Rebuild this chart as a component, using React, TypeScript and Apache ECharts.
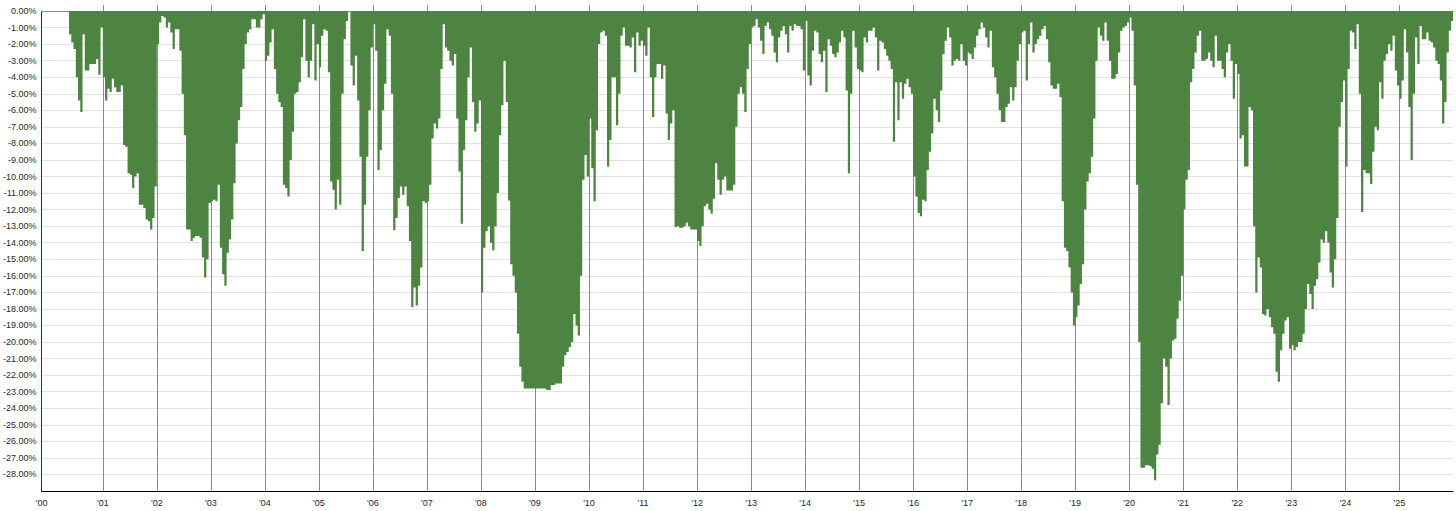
import React, { useEffect, useRef } from "react";
import * as echarts from "echarts";

// ---- axis ranges ----
const X_MIN = 1999.8657;
const X_MAX = 2025.994;
const Y_MIN = -29;
const Y_MAX = 0;
const STEPS_PER_YEAR = 24;
const yearLines = [
  2001, 2002, 2003, 2004, 2005, 2006, 2007, 2008, 2009, 2010, 2011, 2012, 2013,
  2014, 2015, 2016, 2017, 2018, 2019, 2020, 2021, 2022, 2023, 2024, 2025,
];

// ---- drawdown (%), semi-monthly samples per year ----
const dd2000 = [0, 0, 0, 0, 0, 0, 0, 0, 0, -1.4, -1.9, -2.3, -4.0, -5.4, -6.1, -1.4, -3.6, -3.6, -3.2, -3.2, -3.2, -2.9, -3.85, -1.0];
const dd2001 = [-4.0, -5.4, -4.7, -4.9, -4.1, -4.6, -4.9, -4.9, -4.5, -8.1, -8.2, -9.8, -9.9, -10.7, -10.0, -9.8, -11.7, -11.7, -11.9, -12.6, -12.7, -13.2, -12.5, -10.6];
const dd2002 = [-2.0, -0.7, -0.3, -0.4, -1.0, -0.7, -1.3, -2.3, -1.1, -1.1, -2.4, -5.0, -7.5, -13.2, -13.2, -13.9, -13.7, -13.6, -13.6, -13.7, -14.9, -16.1, -15.0, -11.6];
const dd2003 = [-11.5, -11.4, -11.5, -10.5, -14.3, -15.9, -16.6, -14.6, -13.8, -12.6, -10.4, -8.0, -6.6, -5.8, -3.5, -2.0, -1.3, -1.1, -0.5, -0.5, -1.0, -1.0, -0.5, -0.2];
const dd2004 = [-3.0, -2.7, -1.9, -1.1, -3.5, -5.0, -5.5, -5.8, -10.5, -10.7, -11.2, -9.0, -7.3, -5.0, -4.9, -4.3, -2.8, -0.5, -3.0, -4.0, -3.0, -0.8, -4.2, -2.0];
const dd2005 = [-3.4, -1.5, -1.1, -1.2, -3.7, -10.3, -10.8, -12.0, -10.2, -11.7, -5.0, -1.7, -0.6, 0, -3.3, -4.5, -2.7, -5.4, -8.8, -14.5, -11.7, -8.8, -6.0, -2.2];
const dd2006 = [-0.8, -2.4, -9.6, -8.4, -6.0, -4.4, -1.1, -1.5, -5.0, -13.25, -12.5, -11.3, -10.6, -11.1, -10.6, -11.8, -13.9, -17.9, -16.7, -17.8, -16.6, -15.5, -11.5, -11.6];
const dd2007 = [-11.5, -10.5, -7.7, -6.8, -7.1, -6.5, -3.5, -0.8, -2.2, -2.4, -3.0, -3.3, -2.6, -6.5, -9.7, -12.85, -8.4, -6.6, -4.0, -2.2, -5.5, -7.3, -6.8, -5.4];
const dd2008 = [-17.0, -14.3, -13.3, -13.0, -14.0, -14.45, -13.0, -11.0, -7.5, -5.7, -3.0, -5.5, -11.45, -15.3, -16.0, -17.0, -19.5, -21.5, -22.4, -22.8, -22.8, -22.8, -22.8, -22.8];
const dd2009 = [-22.8, -22.8, -22.8, -22.8, -22.8, -22.9, -22.9, -22.6, -22.6, -22.5, -22.5, -22.5, -21.5, -20.8, -20.6, -20.3, -20.0, -18.3, -19.0, -19.6, -16.0, -10.2, -8.7, -10.0];
const dd2010 = [-6.5, -9.5, -11.5, -7.2, -2.0, -1.3, -1.2, -1.5, -9.4, -7.8, -4.0, -4.0, -6.9, -5.0, -1.5, -1.0, -2.1, -2.1, -2.2, -1.6, -3.7, -1.3, -2.1, -1.8];
const dd2011 = [-2.1, -2.7, -1.0, -4.0, -6.4, -4.0, -3.2, -3.2, -4.1, -3.3, -6.2, -7.8, -6.8, -6.0, -13.05, -13.0, -13.1, -13.1, -13.0, -12.8, -13.0, -13.2, -13.2, -13.2];
const dd2012 = [-13.9, -14.2, -13.0, -11.8, -11.65, -12.0, -12.25, -11.35, -9.2, -10.2, -11.1, -10.2, -10.0, -10.85, -10.85, -10.85, -10.5, -7.0, -5.0, -4.6, -5.0, -6.1, -3.5, -2.0];
const dd2013 = [-1.0, -0.9, -0.5, -1.0, -1.8, -2.6, -0.9, -0.7, -1.1, -1.5, -2.5, -3.1, -1.6, -1.2, -0.9, -1.4, -2.5, -0.9, -1.2, -0.8, -0.9, -0.9, -1.1, -3.6];
const dd2014 = [-0.6, -3.9, -4.5, -2.4, -1.2, -1.3, -2.6, -3.1, -2.4, -4.9, -1.7, -2.1, -2.6, -2.8, -2.5, -1.9, -1.2, -1.6, -4.8, -9.8, -5.0, -1.2, -2.2, -3.5];
const dd2015 = [-3.6, -3.7, -1.6, -1.9, -1.2, -1.2, -1.0, -1.6, -3.6, -1.8, -1.9, -2.3, -2.7, -3.0, -3.5, -7.9, -4.3, -6.6, -4.3, -5.3, -4.4, -4.1, -4.6, -5.0];
const dd2016 = [-10.0, -11.2, -12.2, -12.4, -11.4, -11.5, -9.6, -8.5, -7.4, -5.3, -6.0, -6.7, -4.8, -2.6, -1.8, -1.0, -1.6, -3.3, -3.0, -2.9, -3.0, -2.0, -3.0, -3.3];
const dd2017 = [-2.5, -2.6, -2.9, -2.2, -1.5, -1.1, -0.7, -1.0, -1.6, -2.2, -1.2, -3.4, -4.0, -5.0, -6.0, -6.7, -6.7, -5.8, -5.6, -4.6, -5.4, -4.6, -3.0, -2.0];
const dd2018 = [-1.3, -1.2, -4.2, -2.0, -0.7, -2.5, -2.0, -1.7, -1.5, -1.1, -0.9, -1.7, -3.1, -4.5, -4.7, -4.7, -4.4, -5.2, -11.5, -14.3, -14.5, -15.5, -17.0, -19.0];
const dd2019 = [-18.5, -17.8, -16.5, -15.3, -12.0, -10.3, -9.8, -8.8, -6.5, -3.0, -1.0, -1.5, -1.8, -0.7, -1.8, -3.0, -4.1, -4.1, -3.8, -2.5, -1.2, -1.0, -0.9, -0.7];
const dd2020 = [-0.4, -1.2, -4.5, -10.5, -20.0, -27.6, -27.6, -27.45, -27.45, -27.5, -27.65, -28.35, -26.8, -26.2, -23.7, -21.0, -21.5, -23.8, -21.0, -19.9, -19.8, -18.6, -17.5, -16.0];
const dd2021 = [-12.0, -10.2, -9.6, -4.3, -3.5, -2.5, -1.5, -1.2, -3.0, -3.0, -2.9, -2.5, -3.0, -3.4, -1.5, -3.0, -3.0, -3.5, -4.0, -2.5, -2.0, -3.0, -5.3, -3.2];
const dd2022 = [-3.8, -7.7, -7.5, -9.4, -9.4, -5.8, -6.0, -13.0, -17.0, -14.9, -15.5, -18.3, -18.4, -18.0, -18.5, -19.1, -19.5, -21.8, -22.4, -20.5, -19.5, -18.7, -18.5, -20.4];
const dd2023 = [-20.2, -20.5, -20.3, -20.0, -20.0, -19.5, -18.0, -16.5, -17.1, -18.0, -16.6, -16.2, -15.2, -13.8, -14.0, -13.3, -14.0, -15.8, -16.7, -15.0, -12.5, -7.0, -5.5, -4.2];
const dd2024 = [-9.4, -3.5, -1.2, -1.3, -2.3, -0.8, -5.0, -12.15, -9.6, -9.8, -9.8, -10.45, -8.5, -7.0, -7.2, -4.3, -5.3, -3.0, -2.6, -2.0, -2.4, -1.5, -3.6, -4.5];
const dd2025 = [-5.3, -4.2, -1.1, -2.5, -5.8, -9.0, -5.0, -1.6, -3.2, -0.9, -1.7, -1.7, -1.3, -1.8, -1.9, -2.2, -3.0, -3.2, -4.2, -6.8, -5.5, -2.5, -1.2, -0.6];

const years = [
  2000, 2001, 2002, 2003, 2004, 2005, 2006, 2007, 2008, 2009, 2010, 2011, 2012,
  2013, 2014, 2015, 2016, 2017, 2018, 2019, 2020, 2021, 2022, 2023, 2024, 2025,
];
const drawdownByYear = [
  dd2000, dd2001, dd2002, dd2003, dd2004, dd2005, dd2006, dd2007, dd2008, dd2009,
  dd2010, dd2011, dd2012, dd2013, dd2014, dd2015, dd2016, dd2017, dd2018, dd2019,
  dd2020, dd2021, dd2022, dd2023, dd2024, dd2025,
];

function buildPoints(): [number, number][] {
  const pts: [number, number][] = [[X_MIN, 0]];
  years.forEach((y, k) => {
    drawdownByYear[k].forEach((v, i) => pts.push([y + i / STEPS_PER_YEAR, v]));
  });
  pts.push([X_MAX, pts[pts.length - 1][1]]);
  return pts;
}

const FONT = "'Liberation Sans', Arial, sans-serif";
const TEXT = "#1f1f2b";
const GREEN = "#4e8442";

export default function App() {
  const ref = useRef<HTMLDivElement | null>(null);

  useEffect(() => {
    document.body.style.margin = "0";
    if (!ref.current) return;
    const chart = echarts.init(ref.current, undefined, { renderer: "svg" });
    const yearLabel = (v: number) =>
      "'" + String((v < 2000.5 ? 2000 : Math.round(v)) % 100).padStart(2, "0");

    chart.setOption({
      animation: false,
      backgroundColor: "#ffffff",
      grid: { left: 41, right: 3, top: 11, bottom: 20, containLabel: false },
      xAxis: [
        {
          type: "value",
          position: "bottom",
          min: X_MIN,
          max: X_MAX,
          axisLine: { show: true, onZero: false, lineStyle: { color: "#000", width: 1 } },
          axisTick: {
            show: true,
            inside: true,
            length: 486,
            customValues: yearLines,
            lineStyle: { color: "#8a8a8a", width: 1 },
          },
          axisLabel: {
            show: true,
            customValues: [X_MIN, ...yearLines],
            formatter: yearLabel,
            fontSize: 9,
            fontFamily: FONT,
            color: TEXT,
            margin: 7,
          },
          splitLine: { show: false },
        },
        {
          type: "value",
          position: "top",
          min: X_MIN,
          max: X_MAX,
          axisLine: { show: true, onZero: false, lineStyle: { color: "#8a8a8a", width: 1 } },
          axisTick: { show: false },
          axisLabel: { show: false },
          splitLine: { show: false },
        },
      ],
      yAxis: {
        type: "value",
        min: Y_MIN,
        max: Y_MAX,
        interval: 1,
        axisLine: { show: true, lineStyle: { color: "#333", width: 1 } },
        axisTick: { show: false },
        axisLabel: {
          formatter: (v: number) => (v <= Y_MIN ? "" : v.toFixed(2) + "%"),
          fontSize: 9,
          fontFamily: FONT,
          color: TEXT,
          margin: 5,
        },
        splitLine: { show: true, lineStyle: { color: "#e2e2e2", width: 1 } },
      },
      series: [
        {
          type: "line",
          xAxisIndex: 0,
          data: buildPoints(),
          step: "end",
          symbol: "none",
          showSymbol: false,
          silent: true,
          lineStyle: { width: 0, color: GREEN },
          areaStyle: { color: GREEN, opacity: 1, origin: "end" },
          z: 2,
        },
      ],
    });
    return () => chart.dispose();
  }, []);

  return <div ref={ref} style={{ width: 1456, height: 511 }} />;
}
